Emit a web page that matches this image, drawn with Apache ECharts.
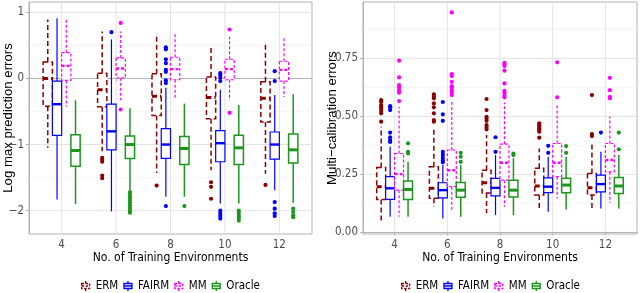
<!DOCTYPE html>
<html><head><meta charset="utf-8">
<script src="https://cdn.jsdelivr.net/npm/echarts@6/dist/echarts.min.js"></script>
<style>html,body{margin:0;padding:0;background:#fff}#c{width:640px;height:293px}</style>
</head><body><div id="c"></div>
<script>
// ---------- data ----------
const xLabels = ['4', '6', '8', '10', '12'];
const methods = ['ERM', 'FAIRM', 'MM', 'Oracle'];
const leftTicks = [-2, -1, 0, 1];
const leftTickLabels = ['\u22122', '\u22121', '0', '1'];
const leftMinor = [-1.5, -0.5, 0.5];
const rightTicks = [0, 0.25, 0.5, 0.75];
const rightTickLabels = ['0.00', '0.25', '0.50', '0.75'];
const rightMinor = [0.125, 0.375, 0.625, 0.875];

// box stats per category: [lower whisker, Q1, median, Q3, upper whisker]
const lmpeERM    = [[-1.05,-0.42,0.00,0.25,0.89],[-1.10,-0.43,-0.17,0.08,0.71],[-1.43,-0.56,-0.27,0.07,0.68],[-1.39,-0.61,-0.29,0.02,0.48],[-1.44,-0.66,-0.30,-0.05,0.55]];
const lmpeFAIRM  = [[-1.83,-0.86,-0.39,-0.04,0.91],[-2.01,-1.08,-0.80,-0.39,0.59],[-1.79,-1.21,-1.00,-0.76,-0.14],[-1.89,-1.26,-0.98,-0.79,-0.17],[-1.69,-1.22,-1.00,-0.81,-0.25]];
const lmpeMM     = [[-0.43,-0.03,0.19,0.39,0.90],[-0.33,0.01,0.15,0.31,0.71],[-0.30,-0.02,0.14,0.32,0.68],[-0.33,-0.02,0.14,0.29,0.63],[-0.28,-0.04,0.13,0.26,0.62]];
const lmpeOracle = [[-1.90,-1.33,-1.09,-0.85,-0.33],[-1.69,-1.21,-1.00,-0.87,-0.45],[-1.79,-1.30,-1.06,-0.88,-0.38],[-1.89,-1.30,-1.05,-0.86,-0.40],[-1.88,-1.28,-1.08,-0.84,-0.24]];

const lmpeERMOut    = [[],[-1.20,-1.23,-1.26,-1.47,-1.51],[-1.62],[-1.57,-1.64,-1.82],[-1.61]];
const lmpeFAIRMOut  = [[],[0.70],[0.47,0.44,0.29,0.23,0.13,0.10,-0.03,-0.07,-1.93],[0.08,0.05,0.01,-0.04,-2.00,-2.04,-2.08,-2.12],[0.11,-0.04,-1.87,-1.97,-2.04,-2.08]];
const lmpeMMOut     = [[],[0.84,-0.47],[],[0.74,-0.52],[]];
const lmpeOracleOut = [[],[-1.72,-1.76,-1.80,-1.84,-1.88,-1.92,-1.96,-2.00,-2.03],[-1.93],[-2.00,-2.04,-2.08,-2.11,-2.15],[-1.97,-2.02,-2.07,-2.10]];

const mceERM    = [[0.039,0.142,0.197,0.280,0.455],[0.110,0.147,0.190,0.283,0.455],[0.082,0.170,0.214,0.268,0.420],[0.099,0.161,0.200,0.276,0.362],[0.103,0.161,0.192,0.254,0.383]];
const mceFAIRM  = [[0.067,0.142,0.190,0.240,0.369],[0.060,0.149,0.182,0.214,0.290],[0.075,0.157,0.192,0.233,0.333],[0.089,0.171,0.197,0.235,0.326],[0.103,0.175,0.208,0.247,0.347]];
const mceMM     = [[0.067,0.182,0.251,0.340,0.540],[0.089,0.197,0.268,0.355,0.570],[0.110,0.225,0.300,0.380,0.560],[0.146,0.240,0.300,0.383,0.550],[0.128,0.261,0.312,0.383,0.500]];
const mceOracle = [[0.067,0.142,0.185,0.221,0.304],[0.067,0.151,0.182,0.215,0.290],[0.075,0.153,0.182,0.225,0.320],[0.099,0.171,0.204,0.233,0.326],[0.103,0.168,0.200,0.237,0.333]];

const mceERMOut    = [[0.570,0.563,0.549,0.541,0.534,0.523,0.513,0.477],[0.595,0.585,0.578,0.556,0.539,0.513,0.484,0.477],[0.575,0.527,0.498,0.491,0.481,0.462,0.453,0.444],[0.470,0.462,0.455,0.448,0.441,0.434,0.408],[0.592,0.424,0.415]];
const mceFAIRMOut  = [[0.544,0.539,0.527,0.430,0.410,0.398,0.390],[0.562,0.509,0.481,0.347,0.335,0.322,0.310,0.302],[0.410,0.347],[0.373,0.343],[0.430]];
const mceMMOut     = [[0.740,0.668,0.635,0.625,0.613,0.602,0.566],[0.948,0.682,0.674,0.649,0.630,0.625,0.613,0.602,0.592],[0.731,0.725,0.717,0.697,0.642,0.610,0.602,0.592,0.582],[0.733,0.582],[0.666,0.613,0.584,0.578]];
const mceOracleOut = [[0.384,0.347,0.340],[0.343,0.326,0.304],[0.340,0.333],[0.372,0.343],[0.430,0.358]];

// ---------- styles ----------
const FONT_N = "'Liberation Sans Narrow', 'DejaVu Sans Condensed', 'Liberation Sans', sans-serif";
const FONT = "'Liberation Sans', Arial, sans-serif";
const STEP = 0.17, BOXW = 0.17;
const styles = {
  ERM:    {color: '#8B0000', dash: [5, 3], width: 1.5},
  FAIRM:  {color: '#0000FF', dash: null,   width: 1.2},
  MM:     {color: '#FF00FF', dash: [3, 2], width: 1.2},
  Oracle: {color: '#1E961E', dash: null,   width: 1.5}
};

const panels = [
  {stats: [lmpeERM, lmpeFAIRM, lmpeMM, lmpeOracle], outs: [lmpeERMOut, lmpeFAIRMOut, lmpeMMOut, lmpeOracleOut],
   ticks: leftTicks, tickLabels: leftTickLabels, minor: leftMinor, min: -2.353, max: 1.156,
   title: 'Log max prediction errors', titleGap: 14.5, grid: {left: 29, top: 2, width: 283, height: 232}, legendLeft: 81},
  {stats: [mceERM, mceFAIRM, mceMM, mceOracle], outs: [mceERMOut, mceFAIRMOut, mceMMOut, mceOracleOut],
   ticks: rightTicks, tickLabels: rightTickLabels, minor: rightMinor, min: -0.007, max: 0.993,
   title: 'Multi\u2212calibration errors', titleGap: 24.5, grid: {left: 363, top: 2, width: 274, height: 232}, legendLeft: 401}
];

function boxRender(outs, k, st) {
  return function (params, api) {
    const i = params.dataIndex;
    const x = api.value(0) + (k - 1.5) * STEP;
    const half = api.size([BOXW, 0])[0] / 2;
    const cx = api.coord([x, api.value(3)])[0];
    const yLo = api.coord([x, api.value(1)])[1];
    const yQ1 = api.coord([x, api.value(2)])[1];
    const yMed = api.coord([x, api.value(3)])[1];
    const yQ3 = api.coord([x, api.value(4)])[1];
    const yHi = api.coord([x, api.value(5)])[1];
    const ls = {stroke: st.color, lineWidth: st.width, lineDash: st.dash, fill: null};
    const children = [
      {type: 'line', shape: {x1: cx, y1: yQ3, x2: cx, y2: yHi}, style: ls},
      {type: 'line', shape: {x1: cx, y1: yQ1, x2: cx, y2: yLo}, style: ls},
      {type: 'rect', shape: {x: cx - half, y: yQ3, width: 2 * half, height: yQ1 - yQ3}, style: Object.assign({}, ls, {fill: '#ffffff'})},
      {type: 'line', shape: {x1: cx - half, y1: yMed, x2: cx + half, y2: yMed}, style: Object.assign({}, ls, {lineWidth: st.width * 2})}
    ];
    outs[i].forEach(function (v) {
      const p = api.coord([x, v]);
      children.push({type: 'circle', shape: {cx: p[0], cy: p[1], r: 2.1}, style: {fill: st.color}});
    });
    return {type: 'group', children: children};
  };
}

const grids = [], xAxes = [], yAxes = [], series = [], legends = [];
const glyph = 'path://M5,0V2.5M1,2.5H9V7.5H1ZM1,5H9M5,7.5V10';

panels.forEach(function (p, g) {
  grids.push(Object.assign({show: true, borderColor: '#b3b3b3', borderWidth: 1, backgroundColor: '#fff', containLabel: false, outerBoundsMode: 'none'}, p.grid));
  const cats = xLabels.map(function (_, i) { return i + 1; });
  xAxes.push({
    type: 'value', gridIndex: g, min: 0.4, max: 5.6,
    axisLine: {show: true, lineStyle: {color: '#b3b3b3', width: 1}},
    axisTick: {show: true, customValues: cats, length: 3, lineStyle: {color: '#b3b3b3'}},
    axisLabel: {customValues: cats, formatter: function (v) { return xLabels[Math.round(v) - 1]; }, margin: 5, fontSize: 11.5, color: '#4d4d4d', fontFamily: FONT_N},
    splitLine: {show: false},
    name: 'No. of Training Environments', nameLocation: 'middle', nameGap: 18, nameMoveOverlap: false,
    nameTextStyle: {fontSize: 12, color: '#000', fontFamily: FONT_N}
  });
  yAxes.push({
    type: 'value', gridIndex: g, min: p.min, max: p.max,
    axisLine: {show: true, lineStyle: {color: '#b3b3b3', width: 1}},
    axisTick: {show: true, customValues: p.ticks, length: 3, lineStyle: {color: '#b3b3b3'}},
    axisLabel: {customValues: p.ticks, formatter: function (v) { const j = p.ticks.findIndex(function (t) { return Math.abs(t - v) < 1e-6; }); return j >= 0 ? p.tickLabels[j] : ''; }, margin: 5, fontSize: 11.5, color: '#4d4d4d', fontFamily: FONT_N},
    splitLine: {show: false},
    name: p.title, nameLocation: 'middle', nameGap: p.titleGap, nameRotate: 90, nameMoveOverlap: false,
    nameTextStyle: {fontSize: 13.2, color: '#000', fontFamily: FONT}
  });
  function hLineSeries(values, color, w) {
    return {type: 'custom', name: 'gl', xAxisIndex: g, yAxisIndex: g, silent: true, z: 0, clip: false,
      data: values.map(function (v) { return [v]; }), encode: {y: 0},
      renderItem: function (params, api) {
        const cs = params.coordSys;
        const y = api.coord([1, api.value(0)])[1];
        return {type: 'line', shape: {x1: cs.x, y1: y, x2: cs.x + cs.width, y2: y}, style: {stroke: color, lineWidth: w}};
      }};
  }
  series.push(hLineSeries(p.minor, '#efefef', 0.6));
  series.push(hLineSeries(p.ticks, '#e3e3e3', 1));
  series.push({type: 'custom', name: 'gl', xAxisIndex: g, yAxisIndex: g, silent: true, z: 0, clip: false,
    data: cats.map(function (v) { return [v]; }), encode: {x: 0},
    renderItem: function (params, api) {
      const cs = params.coordSys;
      const x = api.coord([api.value(0), p.min])[0];
      return {type: 'line', shape: {x1: x, y1: cs.y, x2: x, y2: cs.y + cs.height}, style: {stroke: '#e3e3e3', lineWidth: 1}};
    }});
  methods.forEach(function (m, k) {
    const st = styles[m];
    series.push({
      type: 'custom', name: m, xAxisIndex: g, yAxisIndex: g, z: 2 + k, clip: false,
      itemStyle: {color: st.color},
      data: p.stats[k].map(function (s, i) { return [i + 1].concat(s); }),
      encode: {x: 0, y: [1, 2, 3, 4, 5]},
      renderItem: boxRender(p.outs[k], k, st)
    });
  });
  legends.push({
    left: p.legendLeft, top: 280, padding: 0, itemWidth: 10, itemHeight: 10, itemGap: 5, selectedMode: false,
    textStyle: {fontFamily: FONT_N, fontSize: 11.5, color: '#000'},
    data: methods.map(function (m) {
      const st = styles[m];
      return {name: m, icon: glyph, itemStyle: {color: 'rgba(0,0,0,0)', borderColor: st.color, borderWidth: 1.3, borderType: st.dash ? [2.5, 1.5] : 'solid'}};
    })
  });
});

const chart = echarts.init(document.getElementById('c'), null, {renderer: 'canvas'});
chart.setOption({
  animation: false,
  backgroundColor: '#fff',
  grid: grids, xAxis: xAxes, yAxis: yAxes, series: series, legend: legends
});
</script>
</body></html>
